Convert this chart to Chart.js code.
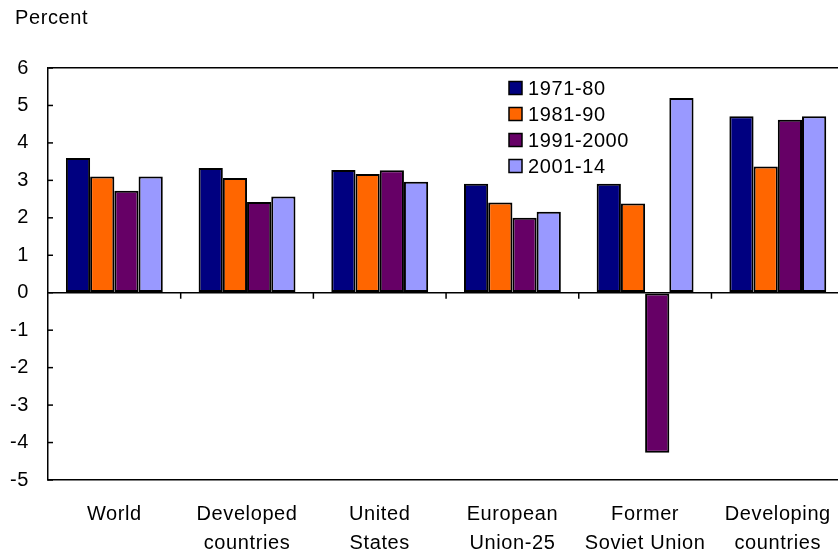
<!DOCTYPE html>
<html>
<head>
<meta charset="utf-8">
<script src="https://cdn.jsdelivr.net/npm/chart.js@4"></script>
<style>
  html, body { margin: 0; padding: 0; background: #fff; overflow: hidden; }
  #wrap { width: 848px; height: 556px; }
</style>
</head>
<body>
<div id="wrap"><canvas id="growthChart"></canvas></div>
<script>
// average annual growth, percent
const regions = [['World'], ['Developed', 'countries'], ['United', 'States'],
                 ['European', 'Union-25'], ['Former', 'Soviet Union'], ['Developing', 'countries']];
const periods = ['1971-80', '1981-90', '1991-2000', '2001-14'];
const g1971 = [3.6, 3.33, 3.28, 2.91, 2.91, 4.71];
const g1981 = [3.1, 3.06, 3.17, 2.41, 2.38, 3.37];
const g1991 = [2.72, 2.42, 3.27, 2.0, -4.27, 4.62];
const g2001 = [3.1, 2.57, 2.96, 2.16, 5.2, 4.71];
const colors = ['#000080', '#ff6600', '#660066', '#9999ff'];

const FONT = "'Liberation Sans', Arial, sans-serif";

// slightly looser text, like the original
const spacing = {
    id: 'spacing',
    beforeDraw(chart) { chart.ctx.letterSpacing = '0.6px'; }
};

// legend, axis title and small tick marks drawn by hand
const extras = {
    id: 'extras',
    afterDraw(chart) {
        const ctx = chart.ctx;
        const x = chart.scales.x, y = chart.scales.y;
        const zero = y.getPixelForValue(0);
        ctx.save();
        ctx.strokeStyle = '#000';
        ctx.lineWidth = 1.5;
        // y ticks pointing inward
        y.ticks.forEach(t => {
            const py = y.getPixelForValue(t.value);
            ctx.beginPath();
            ctx.moveTo(x.left, py);
            ctx.lineTo(x.left + 5, py);
            ctx.stroke();
        });
        // category separators on the zero line
        const n = chart.data.labels.length;
        for (let i = 1; i <= n; i++) {
            const px = i < n
                ? (x.getPixelForTick(i - 1) + x.getPixelForTick(i)) / 2
                : x.right;
            ctx.beginPath();
            ctx.moveTo(px, zero);
            ctx.lineTo(px, zero + 6);
            ctx.stroke();
        }
        // "Percent"
        ctx.fillStyle = '#000';
        ctx.font = '20px ' + FONT;
        ctx.letterSpacing = '0.6px';
        ctx.textBaseline = 'middle';
        ctx.textAlign = 'left';
        ctx.fillText('Percent', 15, 18);
        // legend inside the plot
        chart.data.datasets.forEach((ds, i) => {
            const cy = 88 + i * 26;
            ctx.fillStyle = ds.backgroundColor;
            ctx.fillRect(509, cy - 6.5, 13, 13);
            ctx.lineWidth = 1.5;
            ctx.strokeRect(509, cy - 6.5, 13, 13);
            ctx.fillStyle = '#000';
            ctx.fillText(ds.label, 528, cy + 1);
        });
        ctx.restore();
    }
};

new Chart(document.getElementById('growthChart'), {
    type: 'bar',
    data: {
        labels: regions,
        datasets: periods.map((p, i) => ({
            label: p,
            data: [g1971, g1981, g1991, g2001][i],
            backgroundColor: colors[i],
            borderColor: '#000',
            borderWidth: 2,
            borderSkipped: false,
            categoryPercentage: 0.73,
            barPercentage: 1
        }))
    },
    options: {
        responsive: true,
        maintainAspectRatio: false,
        animation: false,
        layout: { padding: { top: 68, left: 0, right: 2, bottom: 0 } },
        plugins: {
            legend: { display: false },
            tooltip: { enabled: false }
        },
        scales: {
            x: {
                grid: { display: false, drawTicks: false },
                border: { color: '#000', width: 1.5 },
                ticks: {
                    color: '#000',
                    font: { family: FONT, size: 20, lineHeight: 1.45 },
                    padding: 20,
                    maxRotation: 0
                },
                afterFit(scale) { scale.height = 76; }
            },
            y: {
                min: -5,
                max: 6,
                ticks: {
                    stepSize: 1,
                    color: '#000',
                    font: { family: FONT, size: 20 },
                    padding: 19
                },
                grid: {
                    drawTicks: false,
                    lineWidth: 1.5,
                    color: c => (c.tick && (c.tick.value === 0 || c.tick.value === 6)) ? '#000' : 'rgba(0,0,0,0)'
                },
                border: { color: '#000', width: 1.5 },
                afterFit(scale) { scale.width = 48; }
            }
        }
    },
    plugins: [spacing, extras]
});
</script>
</body>
</html>
